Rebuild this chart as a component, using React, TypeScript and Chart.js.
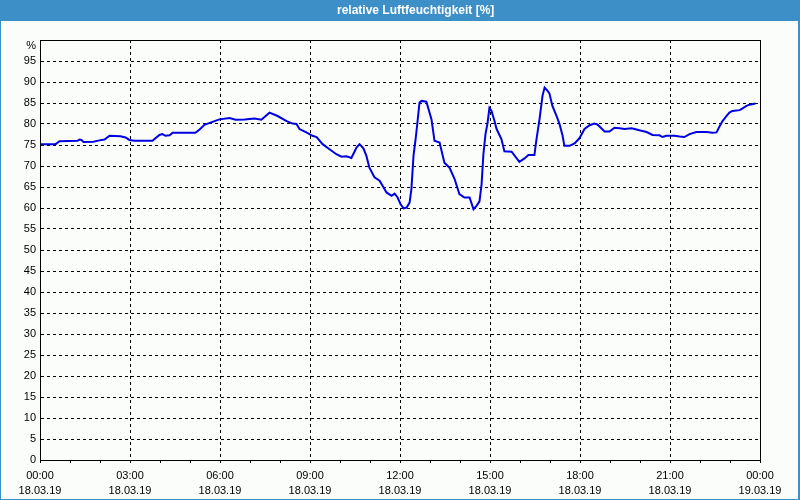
import React, { useEffect, useRef } from "react";
import { Chart, registerables } from "chart.js";

Chart.register(...registerables);

// time of day in hours (18.03.19 00:00 = 0)
const hours = [
  0, 0.52, 0.65, 1.25, 1.32, 1.38, 1.45, 1.78, 1.98, 2.15, 2.32, 2.68, 2.85, 2.98, 3.15, 3.75, 3.98, 4.08, 4.18, 4.32,
  4.42, 5.18, 5.32, 5.48, 5.75, 5.98, 6.32, 6.52, 6.82, 7.15, 7.38, 7.65, 7.92, 8.22, 8.42, 8.55, 8.65, 8.88, 9.08, 9.22,
  9.42, 9.65, 9.88, 10.05, 10.22, 10.38, 10.55, 10.65, 10.78, 10.88, 10.98, 11.15, 11.32, 11.42, 11.55, 11.72, 11.82, 11.92, 12.02, 12.12,
  12.22, 12.32, 12.38, 12.45, 12.52, 12.58, 12.65, 12.72, 12.88, 13.05, 13.15, 13.32, 13.48, 13.65, 13.82, 13.98, 14.15, 14.32, 14.45, 14.55,
  14.65, 14.72, 14.78, 14.85, 14.92, 14.98, 15.05, 15.15, 15.22, 15.38, 15.48, 15.72, 15.98, 16.15, 16.28, 16.48, 16.55, 16.65, 16.75, 16.82,
  16.92, 16.98, 17.08, 17.22, 17.32, 17.42, 17.48, 17.65, 17.82, 17.98, 18.15, 18.32, 18.48, 18.58, 18.82, 18.98, 19.15, 19.32, 19.48, 19.72,
  19.98, 20.22, 20.42, 20.65, 20.75, 20.88, 21.15, 21.32, 21.48, 21.65, 21.88, 22.22, 22.42, 22.55, 22.65, 22.75, 22.88, 22.98, 23.08, 23.32,
  23.42, 23.55, 23.65, 23.85,
];

// relative humidity [%]
const humidity = [
  75.2, 75.2, 75.9, 76.0, 76.3, 76.2, 75.7, 75.8, 76.1, 76.3, 77.2, 77.1, 76.8, 76.2, 76.0, 76.0, 77.4, 77.6, 77.2, 77.3,
  77.9, 77.9, 78.7, 79.8, 80.5, 81.1, 81.4, 81.0, 81.1, 81.3, 81.0, 82.7, 81.9, 80.7, 80.1, 80.0, 78.8, 78.0, 77.2, 76.9,
  75.2, 74.0, 72.8, 72.2, 72.3, 71.9, 74.4, 75.2, 74.2, 72.4, 69.6, 67.3, 66.5, 65.3, 63.7, 62.9, 63.4, 62.5, 60.9, 59.9,
  60.1, 61.3, 64.5, 72.4, 76.4, 80.3, 85.1, 85.5, 85.3, 81.1, 76.0, 75.6, 70.8, 69.6, 66.9, 63.3, 62.5, 62.5, 59.7, 60.5,
  61.6, 65.7, 72.8, 77.6, 80.3, 83.8, 83.1, 80.7, 78.8, 76.4, 73.5, 73.4, 71.0, 71.8, 72.6, 72.6, 76.4, 81.1, 86.7, 88.7,
  87.9, 87.3, 84.3, 81.9, 79.9, 77.2, 74.8, 74.8, 75.4, 76.6, 78.8, 79.7, 80.1, 79.9, 78.2, 78.2, 79.1, 79.0, 78.8, 79.0,
  78.5, 78.1, 77.4, 77.3, 76.9, 77.2, 77.2, 77.0, 76.9, 77.6, 78.1, 78.1, 77.9, 78.0, 79.4, 80.7, 81.9, 82.7, 83.1, 83.3,
  83.7, 84.3, 84.6, 84.9,
];

// x tick labels every 3 hours
const tickHours = [0, 3, 6, 9, 12, 15, 18, 21, 24];
const tickTimes = ["00:00", "03:00", "06:00", "09:00", "12:00", "15:00", "18:00", "21:00", "00:00"];
const tickDates = ["18.03.19", "18.03.19", "18.03.19", "18.03.19", "18.03.19", "18.03.19", "18.03.19", "18.03.19", "19.03.19"];

const TITLE = "relative Luftfeuchtigkeit [%]";
const UNIT = "%";

const FONT = "'Liberation Sans', Arial, sans-serif";
const BLUE = "rgb(61,143,199)";

const framePlugin = {
  id: "frame",
  afterDraw(chart: any) {
    const { ctx, chartArea } = chart;
    ctx.save();
    ctx.strokeStyle = "#000";
    ctx.lineWidth = 1;
    ctx.strokeRect(
      Math.round(chartArea.left) + 0.5,
      Math.round(chartArea.top) + 0.5,
      Math.round(chartArea.right - chartArea.left),
      Math.round(chartArea.bottom - chartArea.top)
    );
    ctx.restore();
  },
};

export default function App() {
  const ref = useRef<HTMLCanvasElement>(null);

  useEffect(() => {
    if (!ref.current) return;
    const chart = new Chart(ref.current, {
      type: "line",
      data: {
        datasets: [
          {
            data: hours.map((h, i) => ({ x: h, y: humidity[i] })),
            borderColor: "rgb(0,0,225)",
            borderWidth: 2,
            pointRadius: 0,
            tension: 0,
            fill: false,
          },
        ],
      },
      options: {
        responsive: false,
        animation: false,
        events: [],
        layout: { padding: { top: 40, right: 40, left: 0, bottom: 0 } },
        plugins: { legend: { display: false }, tooltip: { enabled: false }, title: { display: false } },
        scales: {
          x: {
            type: "linear",
            min: 0,
            max: 24,
            afterFit: (s: any) => {
              s.height = 40;
            },
            border: { display: true, color: "#000", width: 1, dash: [3, 3] },
            grid: {
              drawTicks: true,
              tickLength: 3,
              lineWidth: 1,
              color: (c: any) => {
                const v = c.tick ? c.tick.value : -1;
                return v % 3 === 0 && v > 0 && v < 24 ? "#000" : "rgba(0,0,0,0)";
              },
              tickColor: "#000",
            },
            ticks: {
              stepSize: 1,
              autoSkip: false,
              maxRotation: 0,
              minRotation: 0,
              padding: 5,
              color: "#000",
              font: { family: FONT, size: 11, lineHeight: 15 / 11 },
              callback: (v: any) => {
                const k = tickHours.indexOf(Number(v));
                return k >= 0 ? [tickTimes[k], tickDates[k]] : "";
              },
            },
          },
          y: {
            min: 0,
            max: 100,
            afterFit: (s: any) => {
              s.width = 40;
            },
            border: { display: true, color: "#000", width: 1, dash: [3, 3] },
            grid: {
              drawTicks: false,
              lineWidth: 1,
              color: (c: any) => {
                const v = c.tick ? c.tick.value : -1;
                return v > 0 && v < 100 ? "#000" : "rgba(0,0,0,0)";
              },
            },
            ticks: {
              stepSize: 5,
              padding: 4,
              color: "#000",
              font: { family: FONT, size: 11 },
              callback: (v: any) => (Number(v) >= 100 ? "" : String(v)),
            },
          },
        },
      },
      plugins: [framePlugin],
    });
    return () => chart.destroy();
  }, []);

  return (
    <div style={{ position: "absolute", left: 0, top: 0, width: 800, height: 500, background: BLUE, overflow: "hidden" }}>
      <div style={{ position: "absolute", left: 1, top: 21, width: 797, height: 478, background: "#fbfdfb" }} />
      <canvas ref={ref} width={800} height={500} style={{ position: "absolute", left: 0, top: 0, width: 800, height: 500 }} />
      <div
        style={{
          position: "absolute",
          left: 337,
          top: 0,
          height: 21,
          lineHeight: "21px",
          color: "#fff",
          fontFamily: FONT,
          fontWeight: "bold",
          fontSize: 12,
          whiteSpace: "nowrap",
        }}
      >
        {TITLE}
      </div>
      <div
        style={{
          position: "absolute",
          left: 0,
          width: 36,
          top: 38,
          textAlign: "right",
          lineHeight: "14px",
          color: "#000",
          fontFamily: FONT,
          fontSize: 11,
        }}
      >
        {UNIT}
      </div>
    </div>
  );
}
